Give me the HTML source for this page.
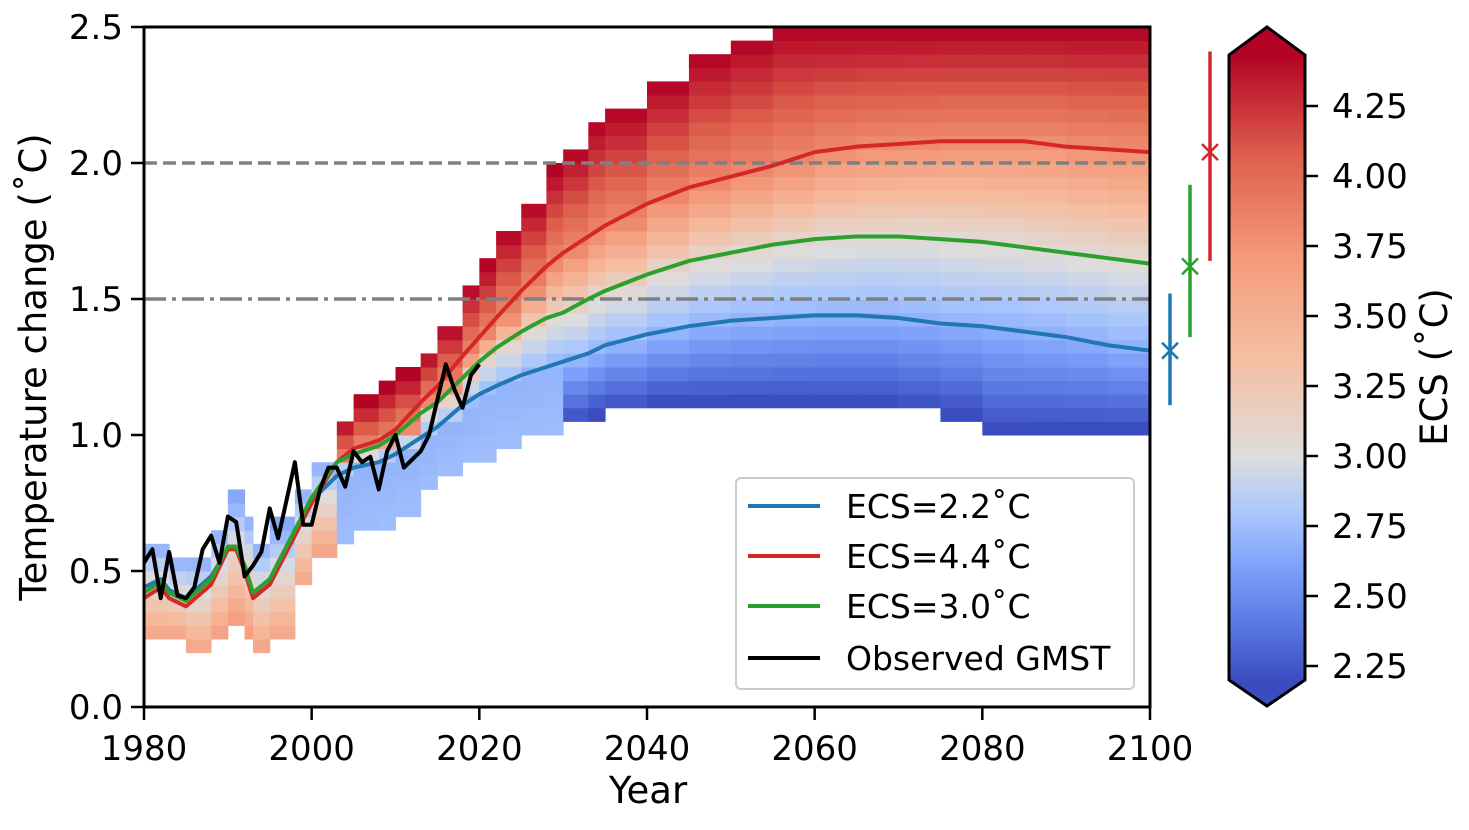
<!DOCTYPE html>
<html><head><meta charset="utf-8"><style>
body{margin:0;background:#fff}
svg text{font-family:"DejaVu Sans","Liberation Sans",sans-serif;fill:#000}
</style></head><body>
<svg id="chart" width="1469" height="825" viewBox="0 0 1469 825" xmlns="http://www.w3.org/2000/svg">
<defs><clipPath id="clip"><rect x="144" y="27" width="1006" height="680"/></clipPath></defs>
<g id="heat" clip-path="url(#clip)"></g>
<g id="refs"></g>
<g id="lines" clip-path="url(#clip)"></g>
<g id="axes"></g>
<g id="cbar"></g>
<g id="markers"></g>
<g id="legend"></g>
</svg>
<script>
const years=[1980,1982,1983,1985,1988,1990,1991,1992,1993,1995,1998,2000,2003,2005,2008,2010,2013,2015,2018,2020,2022,2025,2028,2030,2033,2035,2040,2045,2050,2055,2060,2065,2070,2075,2080,2085,2090,2095,2100];
const ecsHigh=[0.40,0.44,0.40,0.37,0.45,0.58,0.58,0.50,0.40,0.45,0.63,0.75,0.90,0.95,0.98,1.02,1.12,1.18,1.29,1.36,1.43,1.53,1.62,1.67,1.73,1.77,1.85,1.91,1.95,1.99,2.04,2.06,2.07,2.08,2.08,2.08,2.06,2.05,2.04];
const ecsMid=[0.42,0.46,0.42,0.39,0.47,0.59,0.59,0.52,0.42,0.47,0.65,0.77,0.90,0.93,0.96,1.00,1.08,1.12,1.21,1.27,1.32,1.38,1.43,1.45,1.50,1.53,1.59,1.64,1.67,1.70,1.72,1.73,1.73,1.72,1.71,1.69,1.67,1.65,1.63];
const ecsLow=[0.44,0.47,0.43,0.40,0.48,0.58,0.58,0.52,0.42,0.47,0.65,0.76,0.85,0.88,0.90,0.93,0.99,1.03,1.11,1.15,1.18,1.22,1.25,1.27,1.30,1.33,1.37,1.40,1.42,1.43,1.44,1.44,1.43,1.41,1.40,1.38,1.36,1.33,1.31];
const ensUpper=[0.60,0.60,0.55,0.55,0.65,0.76,0.76,0.70,0.60,0.66,0.80,0.90,1.05,1.12,1.17,1.22,1.30,1.40,1.55,1.62,1.75,1.85,1.98,2.05,2.15,2.20,2.30,2.40,2.45,2.50,2.50,2.50,2.50,2.50,2.50,2.50,2.50,2.50,2.50];
const ensLower=[0.26,0.26,0.26,0.21,0.28,0.35,0.35,0.30,0.21,0.25,0.45,0.57,0.62,0.65,0.70,0.73,0.80,0.87,0.92,0.95,0.98,1.00,1.03,1.05,1.08,1.10,1.12,1.12,1.12,1.12,1.12,1.12,1.10,1.08,1.02,1.02,1.02,1.02,1.02];
const obsYears=[1980,1981,1982,1983,1984,1985,1986,1987,1988,1989,1990,1991,1992,1993,1994,1995,1996,1997,1998,1999,2000,2001,2002,2003,2004,2005,2006,2007,2008,2009,2010,2011,2012,2013,2014,2015,2016,2017,2018,2019,2020];
const obsGMST=[0.53,0.58,0.40,0.57,0.41,0.40,0.44,0.58,0.63,0.53,0.70,0.68,0.48,0.52,0.57,0.73,0.62,0.76,0.90,0.67,0.67,0.80,0.88,0.88,0.81,0.94,0.90,0.92,0.80,0.94,1.00,0.88,0.91,0.94,1.00,1.13,1.26,1.17,1.10,1.22,1.26];
const xTicks=[1980,2000,2020,2040,2060,2080,2100];
const yTicks=[0.0,0.5,1.0,1.5,2.0,2.5];
const cbTicks=[2.25,2.50,2.75,3.00,3.25,3.50,3.75,4.00,4.25];
const markerCenters=[1.31,1.62,2.04];
const markerLows=[1.11,1.36,1.64];
const markerHighs=[1.52,1.92,2.41];
const legendLabels=["ECS=2.2˚C","ECS=4.4˚C","ECS=3.0˚C","Observed GMST"];

const NS="http://www.w3.org/2000/svg";
const X=y=>144+(y-1980)*(1006/120);
const Y=v=>707-v*272;
const CB=e=>106+(4.25-e)*280;
function el(tag,attrs,parent){const e=document.createElementNS(NS,tag);for(const k in attrs)e.setAttribute(k,attrs[k]);parent.appendChild(e);return e;}
const cm=[[0,58,76,192],[0.125,90,120,226],[0.25,124,159,249],[0.375,170,199,253],[0.5,221,221,221],[0.625,245,190,161],[0.75,244,154,123],[0.875,222,96,76],[1,180,4,38]];
function color(e){let t=e<3.0?(e-2.2)/0.8*0.5:0.5+(e-3.0)/1.43*0.5;t=Math.max(0,Math.min(1,t));for(let i=1;i<cm.length;i++){if(t<=cm[i][0]){const a=cm[i-1],b=cm[i],f=(t-a[0])/(b[0]-a[0]);return `rgb(${[1,2,3].map(k=>Math.round(a[k]+(b[k]-a[k])*f)).join(',')})`;}}return 'rgb(180,4,38)';}
function lerp(pts,t){for(let i=1;i<pts.length;i++){if(t<=pts[i][0]){const a=pts[i-1],b=pts[i];const f=(t-a[0])/((b[0]-a[0])||1);return a[1]+(b[1]-a[1])*f;}}return pts[pts.length-1][1];}

const heat=document.getElementById('heat');
for(let i=0;i<years.length-1;i++){
  const lo=ensLower[i],hi=ensUpper[i];
  const loE=years[i]<2030?2.75:2.2;
  for(let v=Math.floor(lo/0.05)*0.05;v<hi-0.001;v+=0.05){
    const c=v+0.025;let e;
    if(years[i]<2003){e=lerp([[lo,3.6],[hi,2.65]],c);}
    else{e=lerp([[lo,loE],[ecsLow[i],2.7],[ecsMid[i],3.05],[ecsHigh[i],3.8],[hi,4.45]],c);}
    const r=el('rect',{x:X(years[i]),y:Y(v+0.05),width:X(years[i+1])-X(years[i])+0.5,height:272*0.05+0.5,fill:color(e)},heat);
    
    
  }
}
const refs=document.getElementById('refs');
el('line',{x1:144,x2:1150,y1:Y(2),y2:Y(2),stroke:'#808080','stroke-width':3.5,'stroke-dasharray':'13,6'},refs);
el('line',{x1:144,x2:1150,y1:Y(1.5),y2:Y(1.5),stroke:'#808080','stroke-width':3.5,'stroke-dasharray':'22,6,4,6'},refs);
const lines=document.getElementById('lines');
function poly(xs,vs,col,name){const p=el('polyline',{points:xs.map((y,i)=>X(y)+','+Y(vs[i])).join(' '),fill:'none',stroke:col,'stroke-width':4,'stroke-linejoin':'round'},lines);}
poly(years,ecsLow,'#1f77b4','ecs-2-2-line');
poly(years,ecsHigh,'#d62728','ecs-4-4-line');
poly(years,ecsMid,'#2ca02c','ecs-3-0-line');
poly(obsYears,obsGMST,'#000','observed-gmst-line');
const ax=document.getElementById('axes');
el('rect',{x:144,y:27,width:1006,height:680,fill:'none',stroke:'#000','stroke-width':3},ax);
xTicks.forEach(t=>{el('line',{x1:X(t),x2:X(t),y1:707,y2:720,stroke:'#000','stroke-width':2.5},ax);const tx=el('text',{x:X(t),y:760,'font-size':34,'text-anchor':'middle'},ax);tx.textContent=t;});
yTicks.forEach(t=>{el('line',{x1:131,x2:144,y1:Y(t),y2:Y(t),stroke:'#000','stroke-width':2.5},ax);const tx=el('text',{x:123,y:Y(t)+12,'font-size':34,'text-anchor':'end'},ax);tx.textContent=t.toFixed(1);});
const xt=el('text',{x:648,y:803,'font-size':37,'text-anchor':'middle'},ax);xt.textContent='Year';
const yt=el('text',{x:0,y:0,'font-size':37,'text-anchor':'middle',transform:'translate(46,367) rotate(-90)'},ax);yt.textContent='Temperature change (˚C)';
const cb=document.getElementById('cbar');
for(let y=27;y<706;y+=2){const e=4.25-(y-106)/280;el('rect',{x:1229,y:y,width:76,height:2.5,fill:color(e)},cb);}
el('polygon',{points:'1229,55 1267,27 1305,55 1320,55 1320,0 1215,0 1215,55',fill:'#fff'},cb);
el('polygon',{points:'1229,680 1267,706 1305,680 1320,680 1320,720 1215,720 1215,680',fill:'#fff'},cb);
el('polygon',{points:'1229,55 1267,27 1305,55 1305,680 1267,706 1229,680',fill:'none',stroke:'#000','stroke-width':3},cb);
cbTicks.forEach(t=>{el('line',{x1:1305,x2:1318,y1:CB(t),y2:CB(t),stroke:'#000','stroke-width':2.5},cb);const tx=el('text',{x:1332,y:CB(t)+12,'font-size':34},cb);tx.textContent=t.toFixed(2);});
const ct=el('text',{x:0,y:0,'font-size':37,'text-anchor':'middle',transform:'translate(1447,367) rotate(-90)'},cb);ct.textContent='ECS (˚C)';
const mk=document.getElementById('markers');const mc=['#1f77b4','#2ca02c','#d62728'];const mx=[1170,1190,1210];
markerCenters.forEach((c,i)=>{el('line',{x1:mx[i],x2:mx[i],y1:Y(markerLows[i]),y2:Y(markerHighs[i]),stroke:mc[i],'stroke-width':3.5},mk);
const y=Y(c);el('path',{d:`M${mx[i]-8},${y-8}L${mx[i]+8},${y+8}M${mx[i]-8},${y+8}L${mx[i]+8},${y-8}`,stroke:mc[i],'stroke-width':2.5},mk);});
const lg=document.getElementById('legend');
el('rect',{x:736,y:478,width:398,height:211,rx:5,fill:'rgba(255,255,255,0.85)',stroke:'#ccc','stroke-width':2},lg);
const lc=['#1f77b4','#d62728','#2ca02c','#000'];const ly=[506,556,606,658];
legendLabels.forEach((l,i)=>{el('line',{x1:748,x2:820,y1:ly[i],y2:ly[i],stroke:lc[i],'stroke-width':4},lg);const t=el('text',{x:846,y:ly[i]+12,'font-size':33},lg);t.textContent=l;});
</script>
</body></html>
